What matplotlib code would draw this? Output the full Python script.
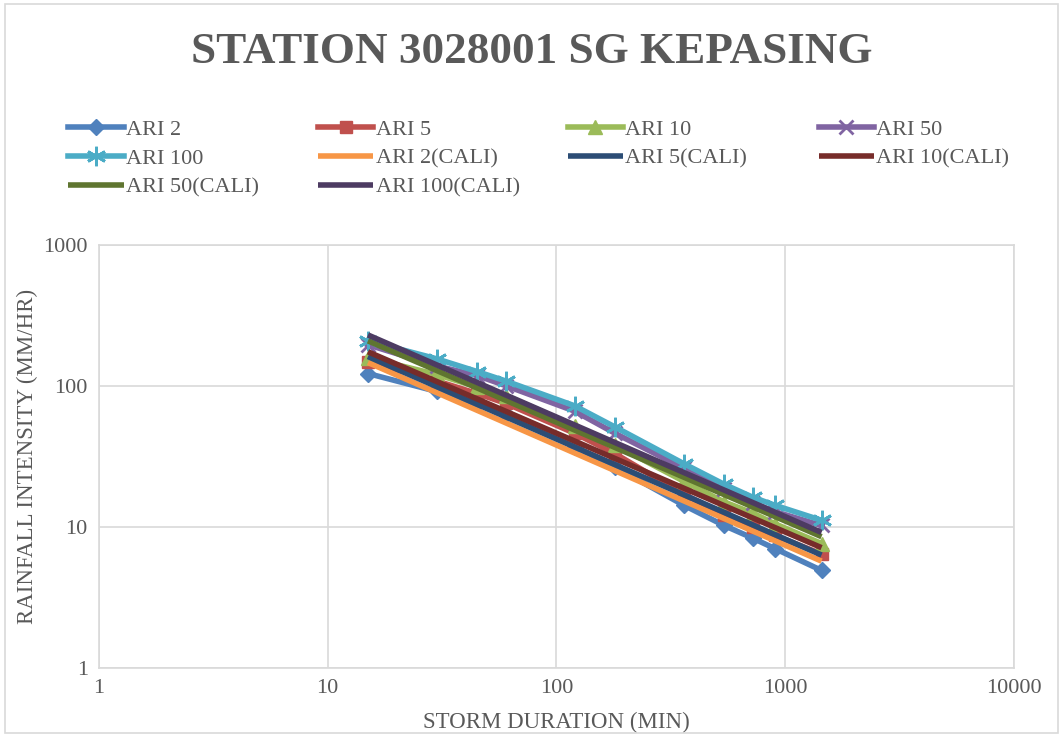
import numpy as np
import matplotlib.pyplot as plt
from matplotlib.patches import Rectangle

plt.rcParams['font.family'] = ['Liberation Serif', 'DejaVu Serif']

# storm durations (min)
durations = [15, 30, 45, 60, 120, 180, 360, 540, 720, 900, 1440]

# observed intensities (mm/hr)
ari_2 = [122, 91, 74, 63, 37, 26.5, 14.2, 10.2, 8.3, 7.0, 4.9]
ari_5 = [148, 108, 88, 75, 46, 33, 17, 12.2, 10.0, 8.7, 6.4]
ari_10 = [158, 120, 98, 85, 52, 38, 21, 15, 12.5, 10.5, 7.6]
ari_50 = [195, 138, 118, 100, 66, 46, 26, 18.5, 14.8, 12.8, 10.2]
ari_100 = [208, 155, 126, 108, 72, 51, 28, 20, 16.2, 14.2, 11.1]

# calibrated curves (end points)
cali_dur = [15, 1440]
ari_2_cali = [146, 5.7]
ari_5_cali = [161, 6.3]
ari_10_cali = [174, 7.1]
ari_50_cali = [208, 8.5]
ari_100_cali = [229, 9.1]

grey = '#595959'

fig = plt.figure(figsize=(10.63, 7.37), dpi=100)
fig.patches.append(Rectangle((0.005, 0.005), 0.99, 0.99, transform=fig.transFigure,
                             fill=False, edgecolor='#d9d9d9', linewidth=1.2))
ax = fig.add_axes([0.093, 0.094, 0.861, 0.574])

lw = 4
marked = [
    ('ARI 2', ari_2, '#4F81BD', dict(marker='D', markersize=8)),
    ('ARI 5', ari_5, '#C0504D', dict(marker='s', markersize=9)),
    ('ARI 10', ari_10, '#9BBB59', dict(marker='^', markersize=10)),
    ('ARI 50', ari_50, '#8064A2', dict(marker='x', markersize=10, markeredgewidth=2)),
    ('ARI 100', ari_100, '#4BACC6', dict(marker=(6, 2, 0), markersize=14, markeredgewidth=2)),
]
handles = []
for name, vals, col, mk in marked:
    h, = ax.plot(durations, vals, color=col, lw=lw, label=name, **mk)
    handles.append(h)

cali = [
    ('ARI 2(CALI)', ari_2_cali, '#F79646'),
    ('ARI 5(CALI)', ari_5_cali, '#2C4D75'),
    ('ARI 10(CALI)', ari_10_cali, '#772C2A'),
    ('ARI 50(CALI)', ari_50_cali, '#5F7530'),
    ('ARI 100(CALI)', ari_100_cali, '#4D3B62'),
]
for name, vals, col in cali:
    h, = ax.plot(cali_dur, vals, color=col, lw=lw, label=name, solid_capstyle='butt')
    handles.append(h)

ax.set_xscale('log')
ax.set_yscale('log')
ax.set_xlim(1, 10000)
ax.set_ylim(1, 1000)
ax.minorticks_off()
ax.set_xticks([1, 10, 100, 1000, 10000])
ax.set_xticklabels(['1', '10', '100', '1000', '10000'])
ax.set_yticks([1, 10, 100, 1000])
ax.set_yticklabels(['1', '10', '100', '1000'])
ax.grid(True, color='#d9d9d9', lw=1.2)
ax.set_axisbelow(True)
for s in ax.spines.values():
    s.set_color('#d9d9d9')
    s.set_linewidth(1.2)
ax.tick_params(length=0, labelsize=16, colors=grey, pad=8)

ax.set_xlabel('STORM DURATION (MIN)', fontsize=16.5, color=grey, labelpad=10)
ax.set_ylabel('RAINFALL INTENSITY (MM/HR)', fontsize=16.5, color=grey, labelpad=4)

fig.text(0.5, 0.930, 'STATION 3028001 SG KEPASING', ha='center', va='center',
         fontsize=32.5, fontweight='bold', color=grey)

# legend laid out row by row, four evenly spaced columns
col_x = [0.064, 0.299, 0.534, 0.770]
for c in range(4):
    items = [handles[i] for i in range(c, len(handles), 4)]
    leg = fig.legend(items, [h.get_label() for h in items], loc='upper left',
                     bbox_to_anchor=(col_x[c], 0.838), frameon=False, fontsize=16,
                     handlelength=2.5, handletextpad=0.1, labelspacing=0.38,
                     borderpad=0, borderaxespad=0)
    for t in leg.get_texts():
        t.set_color(grey)

fig.savefig('out.png', dpi=100)
